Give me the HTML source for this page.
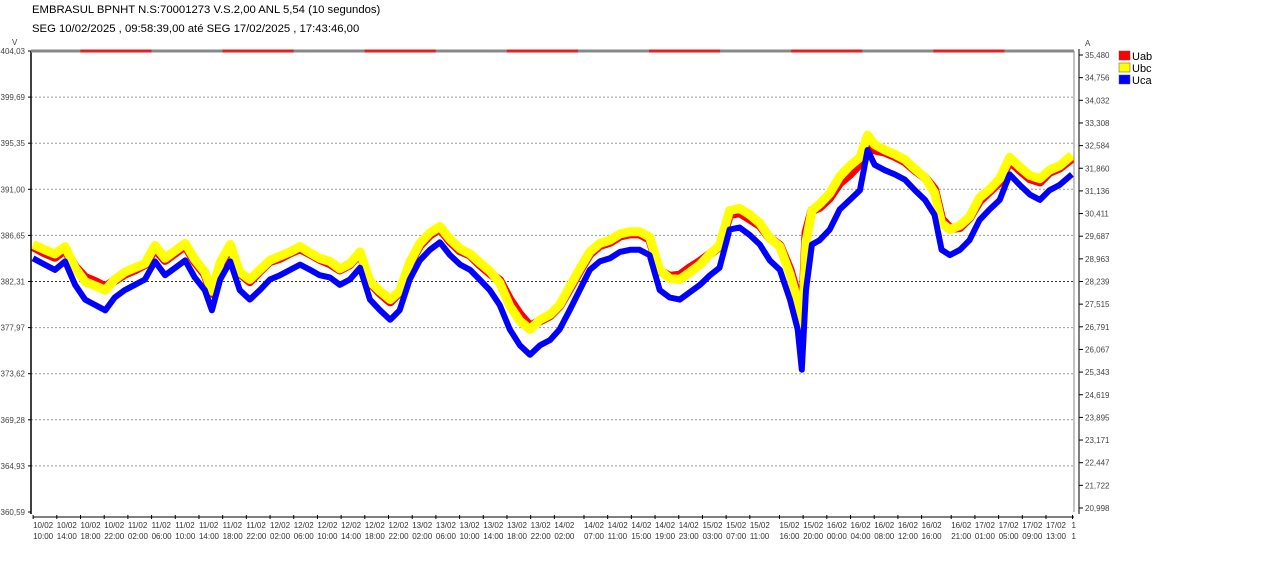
<!DOCTYPE html>
<html><head><meta charset="utf-8"><style>
body{margin:0;background:#fff;width:1280px;height:564px;overflow:hidden;font-family:"Liberation Sans",sans-serif}
svg text{font-family:"Liberation Sans",sans-serif}
</style></head><body>
<svg id="chart" width="1280" height="564">
<text x="32" y="13" font-size="11.3" fill="#000">EMBRASUL BPNHT N.S:70001273  V.S.2,00 ANL 5,54 (10 segundos)</text>
<text x="32" y="32" font-size="11.3" fill="#000">SEG 10/02/2025 , 09:58:39,00 até SEG 17/02/2025 , 17:43:46,00</text>
<g id="grid"></g><g id="series"></g><g id="axes"></g>
<g>
<rect x="1119" y="51" width="11" height="9" fill="#f00" stroke="#555" stroke-width="0.5"/>
<text x="1132" y="60" font-size="11">Uab</text>
<rect x="1119" y="63" width="11" height="9" fill="#ff0" stroke="#555" stroke-width="0.5"/>
<text x="1132" y="72" font-size="11">Ubc</text>
<rect x="1119" y="75" width="11" height="9" fill="#00f" stroke="#555" stroke-width="0.5"/>
<text x="1132" y="84" font-size="11">Uca</text>
</g>
</svg>
<script>
const hours=[0,2.0,3.7,5.4,7.1,8.8,10.5,12.2,13.8,15.5,17.2,18.9,20.6,22.3,24.0,25.7,27.3,29.0,30.2,31.6,33.3,34.9,36.6,38.3,40.0,41.7,43.4,45.1,46.8,48.4,50.1,51.8,53.5,55.2,56.9,58.6,60.3,61.9,63.6,65.3,67.0,68.7,70.4,72.1,73.8,75.4,77.1,78.8,80.5,82.2,83.9,85.6,87.3,88.9,90.6,92.3,94.0,95.7,97.4,99.1,100.8,102.4,104.1,105.8,107.5,109.2,110.9,112.6,114.3,115.9,117.6,119.3,121.0,122.7,124.4,126.1,127.8,129.1,129.8,130.5,131.5,132.8,134.5,136.2,137.9,139.6,140.9,142.1,143.8,145.5,147.2,148.9,150.6,152.2,153.4,154.8,156.5,158.1,159.8,161.5,163.2,164.9,166.6,168.3,170.0,171.6,173.3,175.4];
const uca=[384.5,383.9,383.4,384.2,382.0,380.6,380.1,379.6,380.8,381.5,382.0,382.5,384.2,382.9,383.6,384.3,382.7,381.5,379.6,382.5,384.2,381.5,380.6,381.5,382.5,382.9,383.4,383.9,383.4,382.9,382.7,382.0,382.5,383.6,380.6,379.6,378.7,379.6,382.5,384.3,385.3,386.0,384.8,383.9,383.4,382.5,381.5,380.1,377.8,376.3,375.4,376.3,376.8,377.8,379.6,381.5,383.4,384.2,384.5,385.1,385.3,385.3,384.8,381.5,380.8,380.6,381.3,382.0,382.9,383.6,387.2,387.4,386.7,385.8,384.3,383.4,380.6,377.8,374.0,381.5,385.8,386.2,387.2,389.1,390.0,390.9,394.7,393.3,392.8,392.4,391.9,390.9,390.0,388.6,385.3,384.8,385.3,386.2,388.1,389.1,390.0,392.4,391.4,390.5,390.0,390.9,391.4,392.4];
const ubc=[385.8,385.3,384.9,385.6,383.6,382.3,381.9,381.5,382.5,383.2,383.6,384.0,385.7,384.5,385.2,385.9,384.4,383.2,381.4,384.1,385.8,383.2,382.5,383.4,384.3,384.7,385.1,385.6,385.0,384.5,384.2,383.5,384.0,385.1,382.3,381.4,380.6,381.4,384.1,385.9,386.9,387.5,386.3,385.4,384.9,384.1,383.3,382.2,380.0,378.6,377.8,378.7,379.2,380.1,381.8,383.5,385.1,385.9,386.2,386.8,387.0,387.0,386.5,383.4,382.6,382.5,383.2,383.9,384.9,385.7,389.0,389.2,388.6,387.8,386.4,385.6,383.0,380.4,376.8,386.0,389.0,389.6,390.6,392.2,393.2,394.0,396.1,395.2,394.7,394.3,393.8,392.9,392.1,390.7,387.8,387.2,387.6,388.4,390.2,391.0,392.0,394.0,393.1,392.3,392.0,392.8,393.2,394.2];
const uab=[385.6,385.0,384.6,385.3,383.7,382.7,382.3,381.8,382.4,383.0,383.4,383.9,385.4,384.3,385.0,385.7,384.2,383.0,381.2,383.9,385.6,383.1,382.3,383.3,384.2,384.5,385.0,385.4,384.9,384.4,384.0,383.4,383.9,385.0,382.2,381.2,380.4,381.3,384.0,385.7,386.7,387.3,386.1,385.2,384.8,383.9,383.1,382.4,380.6,379.2,378.1,378.6,379.1,380.0,381.6,383.3,384.9,385.7,386.0,386.6,386.8,386.8,386.3,383.3,382.8,382.9,383.6,384.2,384.9,385.6,388.6,388.8,388.2,387.6,386.4,385.7,383.4,380.9,377.6,386.9,389.0,389.3,390.2,391.6,392.4,393.4,395.4,394.7,394.5,394.1,393.6,392.8,392.1,391.0,388.2,387.3,387.4,388.3,389.9,390.8,391.7,393.7,392.8,392.0,391.7,392.6,393.0,393.9];
const vTicks=["404,03","399,69","395,35","391,00","386,65","382,31","377,97","373,62","369,28","364,93","360,59"];
const aTicks=["35,480","34,756","34,032","33,308","32,584","31,860","31,136","30,411","29,687","28,963","28,239","27,515","26,791","26,067","25,343","24,619","23,895","23,171","22,447","21,722","20,998"];
const xLabels=[["10/02","10:00"],["10/02","14:00"],["10/02","18:00"],["10/02","22:00"],["11/02","02:00"],["11/02","06:00"],["11/02","10:00"],["11/02","14:00"],["11/02","18:00"],["11/02","22:00"],["12/02","02:00"],["12/02","06:00"],["12/02","10:00"],["12/02","14:00"],["12/02","18:00"],["12/02","22:00"],["13/02","02:00"],["13/02","06:00"],["13/02","10:00"],["13/02","14:00"],["13/02","18:00"],["13/02","22:00"],["14/02","02:00"],["14/02","07:00"],["14/02","11:00"],["14/02","15:00"],["14/02","19:00"],["14/02","23:00"],["15/02","03:00"],["15/02","07:00"],["15/02","11:00"],["15/02","16:00"],["15/02","20:00"],["16/02","00:00"],["16/02","04:00"],["16/02","08:00"],["16/02","12:00"],["16/02","16:00"],["16/02","21:00"],["17/02","01:00"],["17/02","05:00"],["17/02","09:00"],["17/02","13:00"],["1","1"]];
const xLabelHours=[0.02,4.02,8.02,12.02,16.02,20.02,24.02,28.02,32.02,36.02,40.02,44.02,48.02,52.02,56.02,60.02,64.02,68.02,72.02,76.02,80.02,84.02,88.02,93.02,97.02,101.02,105.02,109.02,113.02,117.02,121.02,126.02,130.02,134.02,138.02,142.02,146.02,150.02,155.02,159.02,163.02,167.02,171.02,175.5];
const nightStart=[8.0,32.0,56.0,80.0,104.0,128.0,152.0];
const nightEnd=[20.0,44.0,68.0,92.0,116.0,140.0,164.0];

const L=31,R=1074,T=51,B=512,VMAX=404.03,VMIN=360.59,HMAX=175.75;
const xs=h=>L+2+h/HMAX*(R-L-2);
const ys=v=>T+(VMAX-v)/(VMAX-VMIN)*(B-T);
const NS="http://www.w3.org/2000/svg";
function mk(tag,attrs,parent){const e=document.createElementNS(NS,tag);for(const k in attrs)e.setAttribute(k,attrs[k]);parent.appendChild(e);return e;}
const grid=document.getElementById('grid'),axes=document.getElementById('axes'),ser=document.getElementById('series');

vTicks.forEach((t,i)=>{const y=T+i*(B-T)/(vTicks.length-1);
 if(i>0&&i<vTicks.length-1){const g=mk('line',{x1:L,x2:R,y1:y,y2:y,stroke:i==5?'#333':'#999','stroke-dasharray':'2,2','stroke-width':1},grid);
 
 }
 const tx=mk('text',{x:25,y:y+3,'font-size':8,'text-anchor':'end',fill:'#444'},axes);tx.textContent=t;
 
 
 mk('line',{x1:L-3,x2:L,y1:y,y2:y,stroke:'#000'},axes);});
aTicks.forEach((t,i)=>{const y=T+4+i*(B-T-8)/(aTicks.length-1);
 mk('line',{x1:1079,x2:1083,y1:y,y2:y,stroke:'#000'},axes);
 const tx=mk('text',{x:1085,y:y+3,'font-size':8,fill:'#444'},axes);tx.textContent=t;
 
 });
mk('text',{x:12,y:45,'font-size':8,fill:'#444'},axes).textContent='V';
mk('text',{x:1085,y:46,'font-size':8,fill:'#444'},axes).textContent='A';
mk('line',{x1:L,x2:L,y1:T,y2:B+2,stroke:'#000','stroke-width':1.5},axes);
mk('line',{x1:R,x2:R,y1:T,y2:B,stroke:'#888','stroke-width':1},axes);
mk('line',{x1:1079,x2:1079,y1:T-2,y2:B+2,stroke:'#000','stroke-width':1},axes);
mk('line',{x1:L,x2:R,y1:T,y2:T,stroke:'#888','stroke-width':3},axes);
nightStart.forEach((s,i)=>{const n=mk('line',{x1:xs(s),x2:xs(nightEnd[i]),y1:T,y2:T,stroke:'#d22','stroke-width':3},axes);
 
 });
mk('line',{x1:33,x2:R,y1:517,y2:517,stroke:'#000'},axes);
xLabels.forEach((l,i)=>{const x=xs(xLabelHours[i]);
 mk('line',{x1:x,x2:x,y1:515,y2:519,stroke:'#000'},axes);
 const last=i==xLabels.length-1;
 const t=mk('text',{x:last?x-1:x,y:528,'font-size':8,'text-anchor':'start',fill:'#333'},axes);t.textContent=l[0];
 
 
 const t2=mk('text',{x:last?x-1:x,y:539,'font-size':8,'text-anchor':'start',fill:'#333'},axes);t2.textContent=l[1];
 
 });

function draw(arr,color,w,name){const d=arr.map((v,i)=>(i?'L':'M')+xs(hours[i]).toFixed(1)+','+ys(v).toFixed(1)).join('');
 const p=mk('path',{d:d,fill:'none',stroke:color,'stroke-width':w,'stroke-linejoin':'round'},ser);
 
 }
draw(uab,'#f00',9,'series-uab');
draw(ubc,'#ff0',9,'series-ubc');
draw(uca,'#00f',6,'series-uca');
</script>
</body></html>
